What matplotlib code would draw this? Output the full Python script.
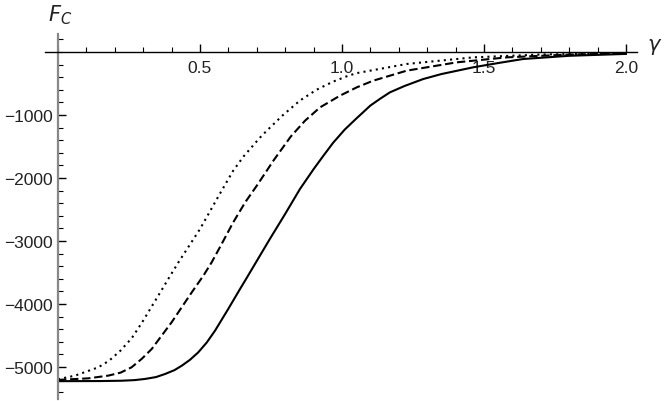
import matplotlib.pyplot as plt
from matplotlib.ticker import MultipleLocator, FixedLocator

plt.rcParams['font.family'] = ['Liberation Sans', 'DejaVu Sans']

# values (gamma, F_C)
g_solid = [0.0, 0.15, 0.224, 0.27, 0.306, 0.345, 0.377, 0.41, 0.436, 0.465, 0.494,
           0.524, 0.553, 0.60, 0.641, 0.664, 0.746, 0.80, 0.852, 0.90, 0.934, 0.969,
           1.01, 1.052, 1.10, 1.135, 1.169, 1.22, 1.286, 1.35, 1.462, 1.55, 1.638,
           1.80, 2.0]
f_solid = [-5225, -5223, -5218, -5208, -5190, -5160, -5111, -5050, -4979, -4885,
           -4767, -4610, -4423, -4075, -3762, -3590, -2968, -2570, -2175, -1860,
           -1650, -1440, -1230, -1050, -850, -740, -640, -540, -429, -350, -243,
           -175, -111, -60, -30]

g_dash = [0.0, 0.107, 0.177, 0.22, 0.259, 0.295, 0.33, 0.40, 0.471, 0.512, 0.541,
          0.570, 0.617, 0.66, 0.70, 0.76, 0.82, 0.87, 0.923, 0.993, 1.052, 1.11,
          1.228, 1.404, 1.58, 1.80, 2.0]
f_dash = [-5205, -5180, -5137, -5090, -5005, -4870, -4714, -4291, -3815, -3550,
          -3339, -3100, -2704, -2380, -2122, -1715, -1340, -1090, -878, -693, -561,
          -455, -296, -164, -85, -40, -22]

g_dot = [0.0, 0.06, 0.142, 0.18, 0.22, 0.26, 0.295, 0.353, 0.394, 0.424, 0.5, 0.57,
         0.617, 0.653, 0.711, 0.735, 0.79, 0.852, 0.91, 0.969, 1.02, 1.052, 1.228,
         1.462, 1.70, 2.0]
f_dot = [-5195, -5137, -5005, -4900, -4740, -4540, -4300, -3868, -3560, -3339,
         -2810, -2250, -1884, -1660, -1360, -1250, -1010, -770, -600, -470, -380,
         -335, -190, -85, -40, -18]

x_ticks = [0.5, 1.0, 1.5, 2.0]
y_ticks = [-5000, -4000, -3000, -2000, -1000]

fig = plt.figure(figsize=(6.64, 4.02), dpi=100)
ax = fig.add_axes([45 / 664, 2 / 402, 592 / 664, 365 / 402])

ax.plot(g_solid, f_solid, color='black', lw=1.5)
ax.plot(g_dash, f_dash, color='black', lw=1.5, dashes=(4, 1.8))
ax.plot(g_dot, f_dot, color='black', lw=1.5, dashes=(1, 2))

ax.set_xlim(-0.0458, 2.039)
ax.set_ylim(-5508, 286)

for s in ['top', 'right']:
    ax.spines[s].set_visible(False)
ax.spines['left'].set_position(('data', 0))
ax.spines['bottom'].set_position(('data', 0))
ax.spines['left'].set_color('#888888')
ax.spines['left'].set_linewidth(1.6)
ax.spines['bottom'].set_linewidth(1.0)

ax.xaxis.set_major_locator(FixedLocator(x_ticks))
ax.xaxis.set_minor_locator(MultipleLocator(0.1))
ax.yaxis.set_major_locator(FixedLocator(y_ticks))
ax.yaxis.set_minor_locator(MultipleLocator(200))
ax.set_xticklabels(['0.5', '1.0', '1.5', '2.0'])
ax.set_yticklabels(['\u22125000', '\u22124000', '\u22123000', '\u22122000', '\u22121000'])

ax.tick_params(which='both', direction='in', labelsize=12.5, labelcolor='#222222')
ax.tick_params(which='major', length=6, width=1)
ax.tick_params(which='minor', length=3.5, width=0.8)
ax.tick_params(axis='x', pad=6)
ax.tick_params(axis='y', pad=4)

fig.text(655 / 664, 1 - 47 / 402, r'$\gamma$', fontsize=15, ha='center', va='center',
         color='#222222')
fig.text(60 / 664, 1 - 15 / 402, r'$F_C$', fontsize=15, ha='center', va='center',
         color='#222222')

fig.savefig('out.png', dpi=100)
